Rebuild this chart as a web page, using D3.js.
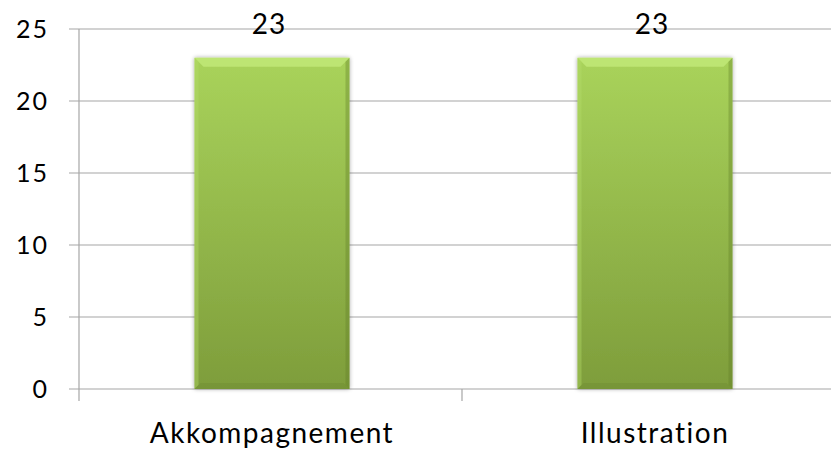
<!DOCTYPE html>
<html><head><meta charset="utf-8">
<script src="https://cdn.jsdelivr.net/npm/d3@7"></script>
<style>body{margin:0;background:#fff}svg{display:block}</style>
</head><body>
<svg id="c" width="831" height="449"></svg>
<script>
const categories = ["Akkompagnement", "Illustration"];
const values = [23, 23];
const yTicks = [0, 5, 10, 15, 20, 25];

const svg = d3.select("#c");
const font = "Lato, 'Open Sans', sans-serif";
const x = d3.scaleBand().domain(categories).range([79, 845]).paddingInner(0).paddingOuter(0);
const y = d3.scaleLinear().domain([0, 25]).range([389, 29]);
const barW = 155;

const defs = svg.append("defs");
const g1 = defs.append("linearGradient").attr("id","gb").attr("x1",0).attr("y1",0).attr("x2",0).attr("y2",1);
g1.append("stop").attr("offset","0%").attr("stop-color","#a9d35b");
g1.append("stop").attr("offset","100%").attr("stop-color","#7e9d3b");
const f = defs.append("filter").attr("id","sh").attr("x","-10%").attr("y","-10%").attr("width","120%").attr("height","120%");
f.append("feGaussianBlur").attr("in","SourceAlpha").attr("stdDeviation",2);
f.append("feOffset").attr("dx",0).attr("dy",0).attr("result","b");
f.append("feComponentTransfer").append("feFuncA").attr("type","linear").attr("slope",0.35);
const fm = f.append("feMerge"); fm.append("feMergeNode"); fm.append("feMergeNode").attr("in","SourceGraphic");

// gridlines
svg.append("g").selectAll("line").data(yTicks).join("line")
  .attr("x1",69).attr("x2",831).attr("y1",d=>y(d)).attr("y2",d=>y(d))
  .attr("stroke","#a6a6a6").attr("stroke-width",1.2);
// y axis line
svg.append("line").attr("x1",79).attr("x2",79).attr("y1",y(25)).attr("y2",401).attr("stroke","#a6a6a6").attr("stroke-width",1.2);
// x tick between categories
svg.append("g").selectAll("line").data(categories.slice(1)).join("line")
  .attr("x1",d=>x(d)).attr("x2",d=>x(d)).attr("y1",389).attr("y2",401)
  .attr("stroke","#a6a6a6").attr("stroke-width",1.2);

// y labels
svg.append("g").selectAll("text").data(yTicks).join("text")
  .attr("x",49).attr("y",d=>y(d)+9).attr("text-anchor","end")
  .attr("font-family",font).attr("font-size",25).attr("letter-spacing",2).attr("fill","#000").text(d=>d);

// bars
const bv = 9;
const bars = svg.append("g").selectAll("g").data(categories).join("g")
  .attr("filter","url(#sh)");
bars.each(function(c,i){
  const gg = d3.select(this);
  const cx = x(c) + x.bandwidth()/2 + 1.5;
  const x0 = cx - barW/2, x1 = cx + barW/2, y0 = y(values[i]), y1 = y(0);
  gg.append("rect").attr("x",x0).attr("y",y0).attr("width",barW).attr("height",y1-y0).attr("fill","url(#gb)");
  gg.append("polygon").attr("points",[[x0,y0],[x1,y0],[x1-bv,y0+bv],[x0+bv,y0+bv]].join(" ")).attr("fill","#c6ec7e").attr("opacity",0.7);
  gg.append("polygon").attr("points",[[x0,y0],[x0+4,y0+4],[x0+4,y1-4],[x0,y1]].join(" ")).attr("fill","#b5dc6a").attr("opacity",0.4);
  gg.append("polygon").attr("points",[[x1,y0],[x1-4,y0+4],[x1-4,y1-4],[x1,y1]].join(" ")).attr("fill","#5f7c25").attr("opacity",0.35);
  gg.append("polygon").attr("points",[[x0,y1],[x0+6,y1-6],[x1-6,y1-6],[x1,y1]].join(" ")).attr("fill","#62802a").attr("opacity",0.25);
  svg.append("text").attr("x",cx - 3).attr("y",y(25)+5).attr("text-anchor","middle")
    .attr("font-family",font).attr("font-size",28).attr("letter-spacing",1).attr("fill","#000").text(values[i]);
});

// category labels
svg.append("g").selectAll("text").data(categories).join("text")
  .attr("x",d=>x(d)+x.bandwidth()/2 + 1.5).attr("y",443).attr("text-anchor","middle")
  .attr("font-family",font).attr("font-size",28).attr("letter-spacing",1.5).attr("fill","#000").text(d=>d);
</script>
</body></html>
